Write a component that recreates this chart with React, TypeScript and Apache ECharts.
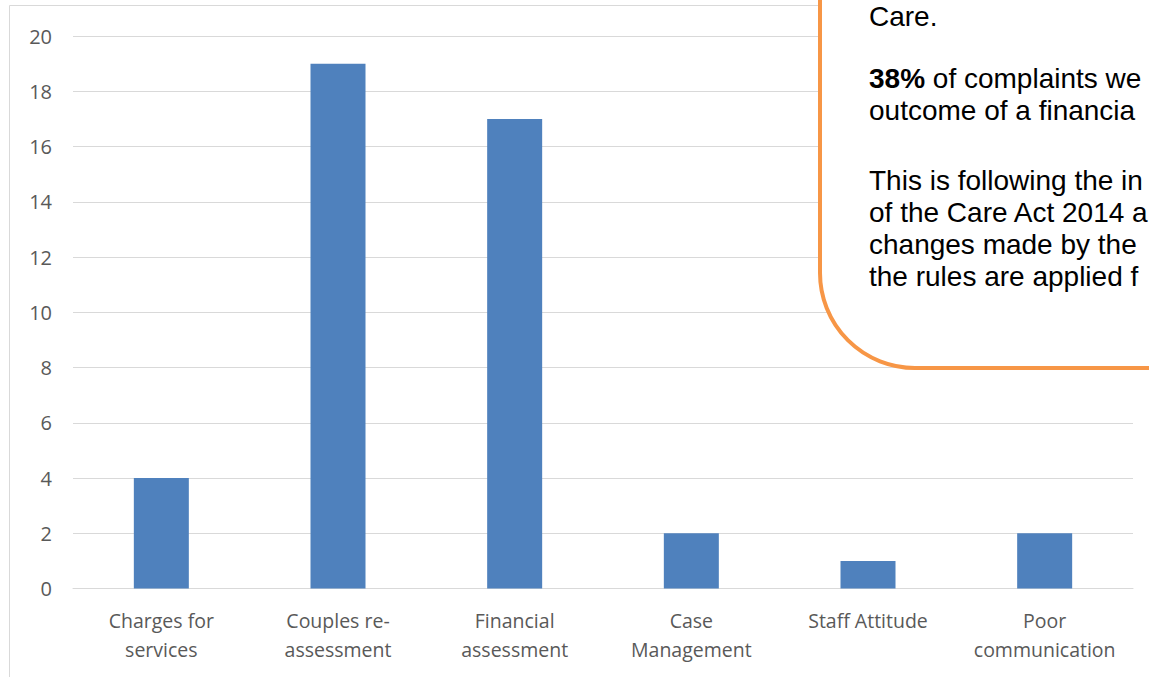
import React, { useEffect, useRef } from "react";
import * as echarts from "echarts";

const categories = [
  "Charges for\nservices",
  "Couples re-\nassessment",
  "Financial\nassessment",
  "Case\nManagement",
  "Staff Attitude",
  "Poor\ncommunication",
];
const values = [4, 19, 17, 2, 1, 2];
const yTicks = { min: 0, max: 20, interval: 2 };

// Visible part of the call-out note (the box runs off the right edge of the picture)
const noteParagraphs = [
  ["Care."],
  ["{b|38%} of complaints we", "outcome of a financia"],
  [
    "This is following the in",
    "of the Care Act 2014 a",
    "changes made by the",
    "the rules are applied f",
  ],
];
const noteCenters = [16, 94, 228];

export default function App() {
  const ref = useRef<HTMLDivElement>(null);
  useEffect(() => {
    const chart = echarts.init(ref.current!, null, { renderer: "svg" });
    const textStyle = (lh: number) => ({
      fill: "#000000",
      fontFamily: "Liberation Sans",
      fontSize: 28,
      lineHeight: lh,
      verticalAlign: "middle",
      rich: {
        b: {
          fontWeight: "bold",
          fontFamily: "Liberation Sans",
          fontSize: 28,
          lineHeight: lh,
          fill: "#000000",
        },
      },
    });
    chart.setOption({
      animation: false,
      backgroundColor: "#ffffff",
      grid: { left: 73, right: 16, top: 36, bottom: 88.5 },
      xAxis: {
        type: "category",
        data: categories,
        axisLine: { show: true, lineStyle: { color: "#D9D9D9", width: 1 } },
        axisTick: { show: false },
        axisLabel: {
          color: "#595959",
          fontFamily: "Open Sans",
          fontSize: 19.5,
          lineHeight: 29,
          margin: 17,
          interval: 0,
        },
      },
      yAxis: {
        type: "value",
        min: yTicks.min,
        max: yTicks.max,
        interval: yTicks.interval,
        axisLine: { show: false },
        axisTick: { show: false },
        splitLine: { lineStyle: { color: "#D9D9D9", width: 1 } },
        axisLabel: {
          color: "#595959",
          fontFamily: "Open Sans",
          fontSize: 20,
          margin: 21,
        },
      },
      series: [
        {
          type: "bar",
          data: values,
          barWidth: 55,
          itemStyle: { color: "#4F81BD" },
        },
      ],
      graphic: [
        {
          type: "rect",
          z: -10,
          silent: true,
          shape: { x: 9.5, y: 5.5, width: 1300, height: 800 },
          style: { fill: "none", stroke: "#D9D9D9", lineWidth: 1 },
        },
        {
          type: "rect",
          z: 100,
          shape: { x: 820, y: -40, width: 420, height: 408, r: [0, 0, 0, 95] },
          style: { fill: "#ffffff", stroke: "#F79646", lineWidth: 4 },
        },
        ...noteParagraphs.map((lines, i) => ({
          type: "text",
          z: 101,
          x: 869,
          y: noteCenters[i],
          style: { ...textStyle(i === 0 ? 28 : 32), text: lines.join("\n") },
        })),
      ],
    });
    return () => chart.dispose();
  }, []);
  return (
    <div
      ref={ref}
      style={{ position: "absolute", left: 0, top: 0, width: 1149, height: 677 }}
    />
  );
}
